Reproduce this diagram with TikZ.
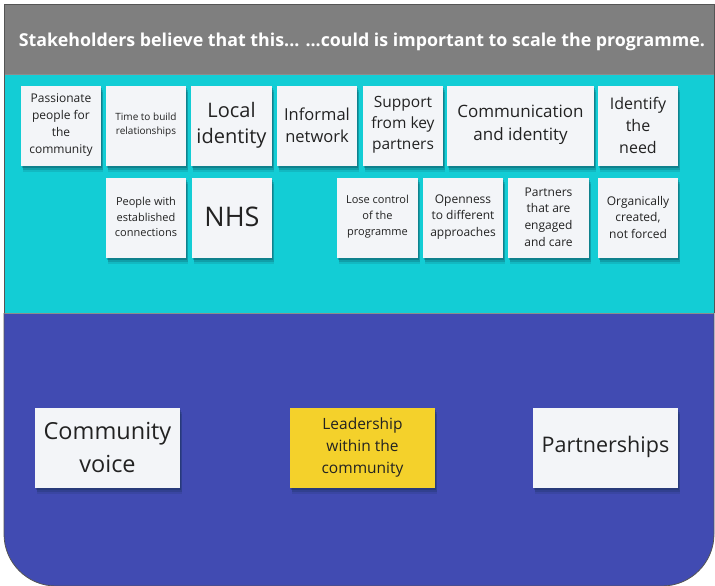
\documentclass[tikz,border=0pt]{standalone}
\usepackage{fontspec}
\setmainfont{Open Sans}
\definecolor{bandgray}{HTML}{7F7F7F}
\definecolor{bandcyan}{HTML}{13CDD5}
\definecolor{bandblue}{HTML}{414BB2}
\definecolor{notewhite}{HTML}{F3F5F8}
\definecolor{noteyellow}{HTML}{F4D12B}
\definecolor{inktext}{HTML}{222222}
\definecolor{framegray}{HTML}{555555}
\definecolor{shadowink}{HTML}{0B2A3A}
\tikzset{
  note/.style={draw=none, fill=notewhite, minimum width=80pt, minimum height=80pt, inner sep=0pt,
    preaction={fill=shadowink, fill opacity=0.12, transform canvas={shift={(2pt,-6pt)}}},
    preaction={fill=shadowink, fill opacity=0.18, transform canvas={shift={(1.5pt,-4pt)}}},
    preaction={fill=shadowink, fill opacity=0.25, transform canvas={shift={(1pt,-2pt)}}}},
  notetext/.style={align=center, text=inktext, inner sep=0pt},
  fs/.style n args={2}{font=\fontsize{#1}{#2}\selectfont}
}
\newcommand{\sticky}[6]{% name, x, y, width, size/leading style, text
  \node[note, minimum width=#4pt] (#1) at (#2,#3) {};
  \node[notetext, #5] (#1t) at ([yshift=1pt]#1.center) {#6};
}
\begin{document}
\begin{tikzpicture}[x=1pt,y=-1pt]
\useasboundingbox (0,0) rectangle (715,586);
% bands
\fill[bandgray] (4,4) rectangle (714,75);
\fill[bandcyan] (4,75) rectangle (714,313);
\fill[bandblue] (4,313) -- (4,534) arc[start angle=180, end angle=90, radius=52]
  -- (662,586) arc[start angle=90, end angle=0, radius=52] -- (714,313) -- cycle;
\draw[black!45, line width=1pt] (4,75) -- (714,75);
\draw[black!45, line width=1pt] (4,313) -- (714,313);
\draw[framegray, line width=0.8pt] (4,313) -- (4,4) -- (714,4) -- (714,313);
\draw[framegray, line width=0.8pt] (4,313) -- (4,534) arc[start angle=180, end angle=90, radius=52]
  -- (662,586) arc[start angle=90, end angle=0, radius=52] -- (714,313);
% title
\node[text=white, font=\fontsize{17.8}{21}\selectfont\bfseries, inner sep=0pt] (title) at (362,42)
  {Stakeholders believe that this... ...could is important to scale the programme.};
% row 1
\sticky{n1}{61}{126}{80}{fs={12}{17}}{Passionate\\people for\\the\\community}
\sticky{n2}{146}{126}{80}{fs={10}{14.5}}{Time to build\\relationships}
\sticky{n3}{231.5}{126}{81}{fs={20}{26}}{Local\\identity}
\sticky{n4}{317}{126}{80}{fs={16.5}{22}}{Informal\\network}
\sticky{n5}{403}{126}{80}{fs={15.5}{21}}{Support\\from key\\partners}
\sticky{n6}{520.5}{126}{147}{fs={17}{23}}{Communication\\and identity}
\sticky{n7}{638}{126}{80}{fs={16}{22}}{Identify\\the\\need}
% row 2
\sticky{m1}{146}{218}{80}{fs={11}{15.5}}{People with\\established\\connections}
\sticky{m2}{232}{218}{80}{fs={27}{30}}{NHS}
\sticky{m3}{377.5}{218}{81}{fs={11}{16}}{Lose control\\of the\\programme}
\sticky{m4}{463}{218}{80}{fs={12}{16.5}}{Openness\\to different\\approaches}
\sticky{m5}{548.5}{218}{81}{fs={12}{16.8}}{Partners\\that are\\engaged\\and care}
\sticky{m6}{638}{218}{80}{fs={12}{16.5}}{Organically\\created,\\not forced}
% bottom row
\sticky{b1}{107.5}{448}{145}{fs={23.5}{33}}{Community\\voice}
\node[note, fill=noteyellow, minimum width=145pt] (b2) at (362.5,448) {};
\node[notetext, fs={15.5}{22}] (b2t) at ([yshift=1pt]b2.center) {Leadership\\within the\\community};
\sticky{b3}{605.5}{448}{145}{fs={21.5}{26}}{Partnerships}
\end{tikzpicture}
\end{document}
